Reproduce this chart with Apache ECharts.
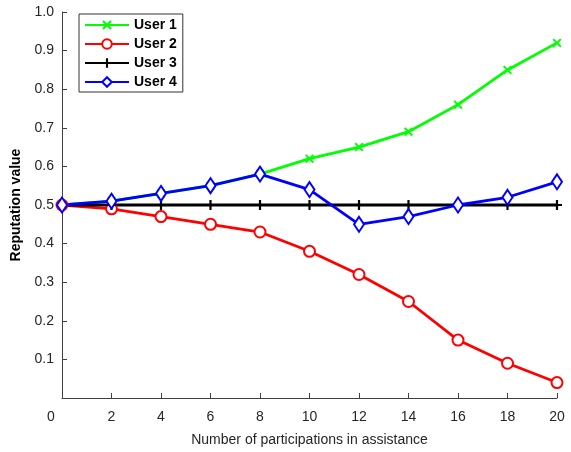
<!DOCTYPE html>
<html><head><meta charset="utf-8">
<script src="https://cdn.jsdelivr.net/npm/echarts@6/dist/echarts.min.js"></script>
<style>html,body{margin:0;padding:0;background:#fff}#c{width:571px;height:452px}</style>
</head><body><div id="c"></div>
<script>
const xValues = [0, 2, 4, 6, 8, 10, 12, 14, 16, 18, 20];
const user1 = [0.50, 0.51, 0.53, 0.55, 0.58, 0.62, 0.65, 0.69, 0.76, 0.85, 0.92];
const user2 = [0.50, 0.49, 0.47, 0.45, 0.43, 0.38, 0.32, 0.25, 0.15, 0.09, 0.04];
const user3 = [0.50, 0.50, 0.50, 0.50, 0.50, 0.50, 0.50, 0.50, 0.50, 0.50, 0.50];
const user4 = [0.50, 0.51, 0.53, 0.55, 0.58, 0.54, 0.45, 0.47, 0.50, 0.52, 0.56];
const seriesNames = ['User 1', 'User 2', 'User 3', 'User 4'];
const xTitle = 'Number of participations in assistance';
const yTitle = 'Reputation value';

const pair = arr => xValues.map((x, i) => [x, arr[i]]);
const X_PATH = 'path://M0,1.5L1.5,0L5,3.5L8.5,0L10,1.5L6.5,5L10,8.5L8.5,10L5,6.5L1.5,10L0,8.5L3.5,5Z';
const PLUS_PATH = 'path://M3.9,0H6.1V3.9H10V6.1H6.1V10H3.9V6.1H0V3.9H3.9Z';
const axisColor = '#404040';
const font = 'Liberation Sans, Arial, Helvetica, sans-serif';

const chart = echarts.init(document.getElementById('c'), null, {renderer: 'canvas'});
function mk(name, data, color, symbol, size, extra) {
  return Object.assign({
    name, type: 'line', data: pair(data), color,
    symbol, symbolSize: size, showSymbol: true,
    lineStyle: {width: 2.8, color},
    itemStyle: {color, borderColor: color, borderWidth: 2.4},
    animation: false, z: 2
  }, extra || {});
}
chart.setOption({
  animation: false,
  textStyle: {fontFamily: font},
  grid: {left: 62, right: 14, top: 12, bottom: 51, containLabel: false},
  legend: {
    left: 79, top: 14, orient: 'vertical',
    data: seriesNames,
    itemWidth: 44, itemHeight: 12, itemGap: 5,
    padding: [4, 6, 3, 5],
    borderColor: '#333', borderWidth: 1, backgroundColor: '#fff',
    textStyle: {fontSize: 14, fontWeight: 'bold', color: '#000', fontFamily: font},
  },
  xAxis: {
    type: 'value', min: 0, max: 20, interval: 2,
    name: xTitle, nameLocation: 'middle', nameGap: 35,
    nameTextStyle: {fontSize: 14, color: '#262626', fontFamily: font},
    axisLine: {show: true, lineStyle: {color: axisColor, width: 1}},
    axisTick: {show: true, inside: true, length: 5, lineStyle: {color: axisColor}},
    axisLabel: {fontSize: 14, color: '#262626', margin: 12, showMinLabel: false,
      formatter: v => v === 0 ? '' : String(v)},
    splitLine: {show: false}
  },
  yAxis: {
    type: 'value', min: 0, max: 1, interval: 0.1,
    name: yTitle, nameLocation: 'middle', nameGap: 31, nameRotate: 90,
    nameTextStyle: {fontSize: 14, fontWeight: 'bold', color: '#000', fontFamily: font},
    axisLine: {show: true, lineStyle: {color: axisColor, width: 1}},
    axisTick: {show: true, inside: true, length: 5, lineStyle: {color: axisColor}},
    axisLabel: {fontSize: 14, color: '#262626', margin: 8, showMinLabel: false,
      formatter: v => v === 0 ? '' : v.toFixed(1)},
    splitLine: {show: false}
  },
  graphic: [{
    type: 'text', left: 47, top: 410,
    style: {text: '0', fontSize: 14, fill: '#262626', fontFamily: font}
  }],
  series: [
    mk('User 1', user1, '#00ff00', X_PATH, 9, {itemStyle: {color: '#00ff00', borderWidth: 0}}),
    mk('User 2', user2, '#ff0000', 'emptyCircle', 11),
    mk('User 3', user3, '#000000', PLUS_PATH, 10, {itemStyle: {color: '#000000', borderWidth: 0}}),
    mk('User 4', user4, '#0000ff', 'emptyDiamond', [10, 15])
  ]
});
</script></body></html>
